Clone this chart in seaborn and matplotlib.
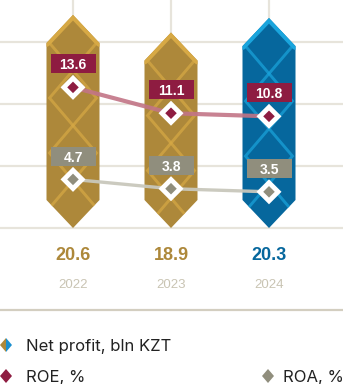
import numpy as np
import pandas as pd
import matplotlib
matplotlib.use("Agg")
import matplotlib.pyplot as plt
from matplotlib.patches import Polygon, Rectangle
from matplotlib.path import Path
import seaborn as sns

# ---------------- data ----------------
years = ["2022", "2023", "2024"]
net_profit = [20.6, 18.9, 20.3]
roe = [13.6, 11.1, 10.8]
roa = [4.7, 3.8, 3.5]

net_labels = ["20.6", "18.9", "20.3"]
roe_labels = ["13.6", "11.1", "10.8"]
roa_labels = ["4.7", "3.8", "3.5"]
legend_labels = ["Net profit, bln KZT", "ROE, %", "ROA, %"]

# ---------------- style ----------------
GOLD = "#AD883A"
GOLD_LT = "#D7A945"
BLUE = "#06679D"
BLUE_LT = "#1AA5DD"
CRIMSON = "#8E1C41"
GREY = "#908E7D"
ROE_LINE = "#C27486"
ROA_LINE = "#C9C8BC"
GRID = "#E7E4DB"
YEAR_C = "#C9C4B3"
SEP = "#D3CEC0"

sns.set_theme(style="white")
plt.rcParams["font.family"] = ["Liberation Sans", "DejaVu Sans"]

W, H = 343, 384
fig = plt.figure(figsize=(W / 100, H / 100), dpi=100)
ax = fig.add_axes([0, 0, 1, 1])

PXX = 98.0      # px per category step
PXY = 10.34     # px per value unit
X0 = 73.0       # px of first category
Y0 = 228.0      # px of value 0 (from top)


def dx(px):
    return px / PXX


def dy(px):
    return px / PXY


df = pd.DataFrame({"year": years, "net": net_profit, "roe": roe, "roa": roa})
x_pos = np.arange(len(years))
df["x"] = x_pos

# bars via seaborn (geometry reused for custom hexagon shapes)
sns.barplot(data=df, x="x", y="net", width=dx(53), ax=ax, color=GOLD, saturation=1)
bars = list(ax.patches)

ax.set_xlim(-X0 / PXX, (W - X0) / PXX)
ax.set_ylim(-(H - Y0) / PXY, Y0 / PXY)
ax.axis("off")

# grid
for g in [0, 6, 12, 18]:
    ax.axhline(g, color=GRID, lw=1.6, zorder=0)
ax.vlines(x_pos, 0, Y0 / PXY, color=GRID, lw=1.6, zorder=0)

base_cols = [GOLD, GOLD, BLUE]
lt_cols = [GOLD_LT, GOLD_LT, BLUE_LT]
tip = dy(28)
for i, b in enumerate(bars):
    x0 = b.get_x()
    w = b.get_width()
    v = b.get_height()
    cx = x0 + w / 2
    hw = w / 2
    b.set_visible(False)
    verts = [(cx, v), (cx + hw, v - tip), (cx + hw, tip), (cx, 0),
             (cx - hw, tip), (cx - hw, v - tip)]
    hexa = Polygon(verts, closed=True, facecolor=base_cols[i], edgecolor="none", zorder=2)
    ax.add_patch(hexa)
    # diamond lattice
    c = v - tip
    while c > -dy(30):
        d = Polygon([(cx, c + dy(27.5)), (cx + hw - dx(3), c), (cx, c - dy(27.5)),
                     (cx - hw + dx(3), c)], closed=True, facecolor="none",
                    edgecolor=lt_cols[i], lw=2.1, alpha=0.7, zorder=2.1)
        ax.add_patch(d)
        d.set_clip_path(hexa)
        c -= dy(55)
    # top chevron border
    ln, = ax.plot([cx - hw, cx, cx + hw], [v - tip, v, v - tip], color=lt_cols[i],
                  lw=5.5, zorder=2.2, solid_joinstyle="miter")
    ln.set_clip_path(hexa)

# lines
sns.lineplot(data=df, x="x", y="roe", color=ROE_LINE, lw=3.0, alpha=0.9, ax=ax,
             sort=False, zorder=3, legend=False)
sns.lineplot(data=df, x="x", y="roa", color=ROA_LINE, lw=2.4, alpha=0.95, ax=ax,
             sort=False, zorder=3, legend=False)

diamond = Path([(0, 1), (1, 0), (0, -1), (-1, 0), (0, 1)],
               [Path.MOVETO, Path.LINETO, Path.LINETO, Path.LINETO, Path.CLOSEPOLY])

for col, inner in [("roe", CRIMSON), ("roa", GREY)]:
    sns.scatterplot(data=df, x="x", y=col, marker=diamond, s=18 ** 2, color="white",
                    edgecolor="none", ax=ax, zorder=4, legend=False)
    sns.scatterplot(data=df, x="x", y=col, marker=diamond, s=8.3 ** 2, color=inner,
                    edgecolor="none", ax=ax, zorder=5, legend=False)

ax.set_xlim(-X0 / PXX, (W - X0) / PXX)
ax.set_ylim(-(H - Y0) / PXY, Y0 / PXY)

# label boxes
bw, bh = dx(45), dy(19)
for vals, labs, col, off in [(roe, roe_labels, CRIMSON, 24), (roa, roa_labels, GREY, 23)]:
    for xi, v, t in zip(x_pos, vals, labs):
        yc = v + dy(off)
        ax.add_patch(Rectangle((xi - bw / 2, yc - bh / 2), bw, bh, facecolor=col,
                               edgecolor="none", zorder=6))
        ax.text(xi, yc, t, color="white", fontsize=10, fontweight="bold",
                ha="center", va="center_baseline", zorder=7)

# value + year labels
val_cols = [GOLD, GOLD, BLUE]
for xi, t, c in zip(x_pos, net_labels, val_cols):
    ax.text(xi, -dy(253 - Y0), t, color=c, fontsize=13, fontweight="bold",
            ha="center", va="center_baseline")
for xi, t in zip(x_pos, years):
    ax.text(xi, -dy(284 - Y0), t, color=YEAR_C, fontsize=9.5,
            ha="center", va="center_baseline")

# separator
ax.axhline(-dy(310 - Y0), color=SEP, lw=1.6, zorder=1)


def px2d(px, py):
    return ((px - X0) / PXX, (Y0 - py) / PXY)


# legend
lx, ly = px2d(6, 345)
hwx, hhy = dx(6), dy(7)
ax.add_patch(Polygon([(lx, ly + hhy), (lx, ly - hhy), (lx - hwx, ly)], closed=True,
                     facecolor=GOLD, edgecolor="none"))
ax.add_patch(Polygon([(lx, ly + hhy), (lx + hwx, ly), (lx, ly - hhy)], closed=True,
                     facecolor="#1A8FCF", edgecolor="none"))
for (px, py), c in [((6, 376), CRIMSON), ((268, 376), GREY)]:
    mx, my = px2d(px, py)
    ax.add_patch(Polygon([(mx, my + hhy), (mx + hwx, my), (mx, my - hhy), (mx - hwx, my)],
                         closed=True, facecolor=c, edgecolor="none"))

for (px, py), t in zip([(26, 345), (26, 376), (283, 376)], legend_labels):
    tx, ty = px2d(px, py)
    ax.text(tx, ty, t, color="#222222", fontsize=12, ha="left", va="center_baseline",
            family=["Inter", "DejaVu Sans"])

fig.savefig("out.png", dpi=100)
